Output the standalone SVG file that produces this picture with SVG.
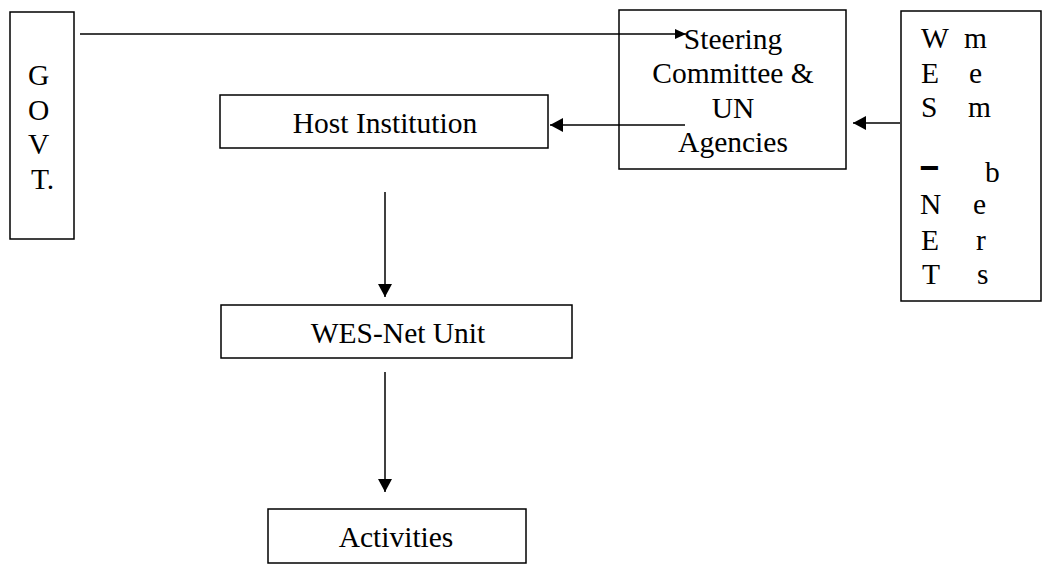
<svg xmlns="http://www.w3.org/2000/svg" width="1045" height="567" viewBox="0 0 1045 567">
<style>
.box{fill:#fff;stroke:#000;stroke-width:1.5}
.t{font-family:"Liberation Serif","Times New Roman",serif;font-size:29.5px;fill:#000}
.c{text-anchor:middle}
.ln{stroke:#000;stroke-width:1.5;fill:none}
</style>
<defs>
<marker id="ah" markerUnits="userSpaceOnUse" markerWidth="14" markerHeight="14" refX="13" refY="7" orient="auto">
<path d="M0,0 L13,7 L0,14 Z" fill="#000"/>
</marker>
<marker id="ahs" markerUnits="userSpaceOnUse" markerWidth="12" markerHeight="10" refX="11" refY="5" orient="auto">
<path d="M0,0 L11,5 L0,10 Z" fill="#000"/>
</marker>
</defs>
<rect width="1045" height="567" fill="#fff"/>
<g id="govt">
<rect class="box" x="10" y="12" width="64" height="227"/>
<text class="t" x="28" y="85">G</text>
<text class="t" x="28" y="120">O</text>
<text class="t" x="28" y="154">V</text>
<text class="t" x="31" y="189">T.</text>
</g>
<g id="steering">
<rect class="box" x="619" y="10" width="227" height="159"/>
<text class="t c" x="733" y="49">Steering</text>
<text class="t c" x="733" y="83">Committee &amp;</text>
<text class="t c" x="733" y="118">UN</text>
<text class="t c" x="733" y="152">Agencies</text>
</g>
<g id="members">
<rect class="box" x="901" y="11" width="140" height="290"/>
<text class="t" x="921" y="48">W</text>
<text class="t" x="964" y="48">m</text>
<text class="t" x="921" y="83">E</text>
<text class="t" x="969" y="83">e</text>
<text class="t" x="921" y="117">S</text>
<text class="t" x="968" y="117">m</text>
<text class="t" x="922" y="175" style="font-weight:bold;stroke:#000;stroke-width:2">–</text>
<text class="t" x="985" y="182">b</text>
<text class="t" x="920" y="214">N</text>
<text class="t" x="973" y="214">e</text>
<text class="t" x="921" y="250">E</text>
<text class="t" x="976" y="250">r</text>
<text class="t" x="922" y="284">T</text>
<text class="t" x="977" y="284">s</text>
</g>
<g id="host">
<rect class="box" x="220" y="95" width="328" height="53"/>
<text class="t c" x="385" y="133">Host Institution</text>
</g>
<g id="unit">
<rect class="box" x="221" y="305" width="351" height="53"/>
<text class="t c" x="398" y="343">WES-Net Unit</text>
</g>
<g id="activities">
<rect class="box" x="268" y="509" width="258" height="54"/>
<text class="t c" x="396" y="547">Activities</text>
</g>
<g id="connectors">
<line class="ln" x1="80" y1="34" x2="686" y2="34" marker-end="url(#ahs)"/>
<line class="ln" x1="685" y1="125" x2="550" y2="125" marker-end="url(#ah)"/>
<line class="ln" x1="900" y1="123" x2="853" y2="123" marker-end="url(#ah)"/>
<line class="ln" x1="385" y1="192" x2="385" y2="297" marker-end="url(#ah)"/>
<line class="ln" x1="385" y1="372" x2="385" y2="492" marker-end="url(#ah)"/>
</g>
</svg>
